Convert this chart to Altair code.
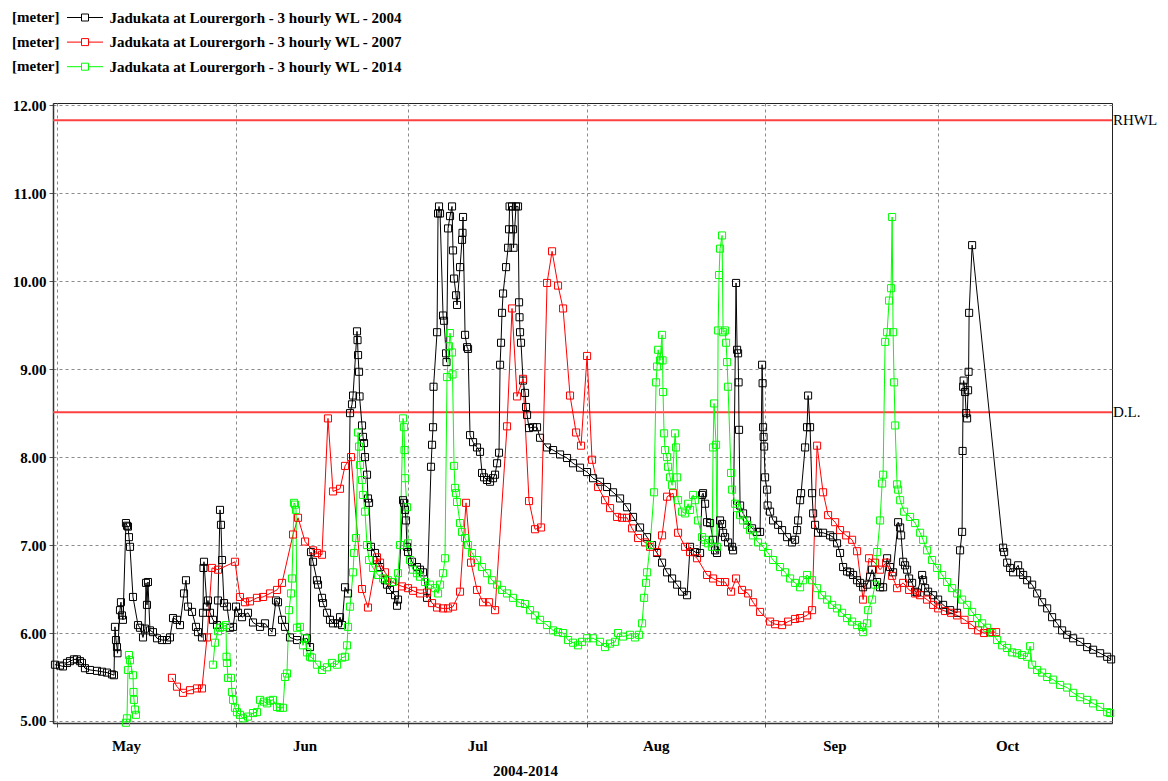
import altair as alt
import pandas as pd

SERIES = [
    "Jadukata at Lourergorh - 3 hourly WL - 2004",
    "Jadukata at Lourergorh - 3 hourly WL - 2007",
    "Jadukata at Lourergorh - 3 hourly WL - 2014",
]
COLORS = ["#000000", "#ff0000", "#00ff00"]
MONTH_TICKS = [5, 6, 7, 8, 9, 10]
Y_TICKS = [5, 6, 7, 8, 9, 10, 11, 12]
REF_LEVELS = [11.83, 8.51]
REF_LABELS = ["RHWL", "D.L."]

# day = days since 1 May, wl = water level [meter]
day_2004 = [-0.35, 0.52, 1.04, 1.74, 2.26, 2.95, 3.47, 3.99, 4.34, 4.86, 5.73, 6.95, 7.82, 8.68, 9.55, 9.90,
            10.07, 10.25, 10.42, 10.51, 10.94, 11.11, 11.29, 11.46, 11.98, 12.16, 12.33, 12.50, 12.68, 13.20,
            14.07, 14.41, 14.94, 15.28, 15.46, 15.63, 15.80, 16.15, 16.67, 17.37, 18.24, 19.10, 19.62, 20.15,
            20.84, 21.36, 22.06, 22.40, 22.75, 23.45, 24.14, 24.49, 25.18, 25.36, 25.44, 25.53, 26.05, 26.22,
            26.57, 27.09, 27.79, 27.96, 28.31, 28.48, 28.66, 29.00, 29.52, 30.05, 30.57, 31.09, 31.44, 32.13,
            33.17, 34.04, 35.26, 36.12, 37.34, 38.03, 38.38, 39.08, 39.60, 40.46, 41.68, 43.42, 43.94, 44.11,
            44.46, 45.15, 45.33, 46.02, 46.20, 46.89, 47.41, 47.93, 48.80, 49.15, 49.50, 50.02, 50.54, 50.89,
            51.23, 51.41, 52.10, 52.19, 52.28, 52.45, 52.54, 52.97, 53.14, 53.32, 53.49, 53.84, 54.01, 54.19,
            54.53, 55.23, 55.57, 56.10, 56.96, 57.31, 57.83, 58.70, 59.05, 59.22, 60.09, 60.26, 60.44, 60.61,
            60.78, 60.96, 61.65, 62.52, 63.04, 63.56, 64.26, 64.95, 65.13, 65.30, 65.39, 66.00, 66.17, 66.34,
            66.52, 67.04, 67.21, 67.56, 67.64, 67.91, 68.25, 68.60, 68.77, 68.95, 69.30, 69.47, 69.99, 70.34,
            70.42, 70.51, 70.86, 71.21, 71.38, 71.73, 72.25, 72.94, 73.46, 73.81, 74.16, 74.68, 75.20, 75.72,
            76.07, 76.42, 76.76, 76.94, 77.11, 77.28, 77.46, 77.98, 78.33, 78.50, 78.59, 79.02, 79.19, 79.28,
            79.71, 80.06, 80.24, 80.32, 80.41, 80.58, 80.93, 81.28, 81.45, 81.63, 81.97, 82.67, 83.36, 83.88,
            85.10, 86.14, 87.36, 88.57, 89.61, 90.83, 92.05, 93.09, 94.30, 95.52, 96.56, 97.78, 98.99, 100.03,
            101.25, 102.47, 103.33, 104.20, 105.07, 105.94, 106.81, 107.68, 108.54, 109.41, 109.93, 110.80,
            111.67, 112.02, 112.19, 112.54, 112.89, 113.41, 113.93, 114.28, 114.62, 115.14, 115.49, 115.67,
            116.01, 116.53, 117.23, 117.40, 117.92, 118.10, 118.27, 118.36, 118.44, 118.62, 119.14, 119.83,
            120.70, 121.57, 122.09, 122.44, 122.53, 122.61, 122.70, 122.79, 122.96, 123.31, 123.40, 123.83,
            124.35, 125.22, 125.91, 126.78, 127.65, 128.17, 128.52, 128.69, 129.04, 129.21, 129.91, 130.25,
            130.43, 130.77, 131.12, 131.30, 131.64, 132.16, 133.03, 134.25, 134.77, 135.46, 135.98, 136.51,
            137.20, 137.72, 138.24, 138.94, 139.46, 139.98, 140.67, 141.20, 141.54, 142.41, 142.93, 143.45,
            144.15, 144.67, 145.19, 146.06, 146.41, 146.58, 146.93, 147.27, 147.62, 147.97, 148.49, 149.01,
            149.36, 150.23, 150.40, 150.75, 151.27, 152.14, 153.01, 153.87, 155.09, 156.30, 156.82, 157.17,
            157.26, 157.35, 157.44, 157.69, 157.87, 158.04, 158.21, 158.30, 158.39, 158.91, 164.29, 164.47,
            164.99, 165.51, 166.03, 166.90, 167.24, 167.77, 168.46, 169.33, 170.20, 171.07, 171.94, 172.80,
            173.67, 174.54, 175.41, 176.45, 177.67, 178.88, 179.92, 181.14, 182.36, 183.05]
wl_2004 = [5.64, 5.63, 5.62, 5.66, 5.68, 5.70, 5.70, 5.68, 5.66, 5.60, 5.58, 5.57, 5.56, 5.55, 5.53, 5.52,
           6.07, 5.92, 5.84, 5.77, 6.26, 6.35, 6.20, 6.15, 7.25, 7.22, 7.21, 7.09, 6.98, 6.41,
           6.09, 6.06, 5.95, 6.05, 6.57, 6.32, 6.58, 6.03, 6.01, 5.94, 5.92, 5.92, 5.95, 6.17,
           6.15, 6.09, 6.45, 6.60, 6.30, 6.24, 6.07, 6.01, 5.95, 6.23, 6.74, 6.81, 6.30, 6.37,
           6.23, 6.15, 6.09, 6.37, 7.40, 7.23, 6.83, 6.34, 6.30, 6.06, 6.07, 6.30, 6.23, 6.18,
           6.23, 6.12, 6.07, 6.11, 6.01, 6.37, 6.35, 6.15, 6.07, 5.95, 5.92, 5.94, 5.84, 6.92,
           6.81, 6.60, 6.55, 6.40, 6.34, 6.23, 6.15, 6.11, 6.11, 6.18, 6.09, 6.52, 6.45, 8.50,
           8.60, 8.70, 9.43, 9.33, 9.16, 8.97, 8.69, 8.36, 8.23, 8.16, 8.00, 7.80, 7.53, 7.48,
           6.98, 6.91, 6.83, 6.75, 6.60, 6.55, 6.49, 6.43, 6.31, 6.38, 7.51, 7.48, 7.40, 7.28,
           6.98, 6.92, 6.81, 6.75, 6.72, 6.69, 6.40, 7.89, 8.14, 8.34, 8.80, 9.42, 10.77, 10.85,
           10.77, 9.61, 9.55, 9.18, 9.08, 10.60, 10.74, 10.85, 10.35, 10.03, 9.84, 9.73, 10.16, 10.47,
           10.55, 10.73, 9.39, 9.25, 9.23, 8.25, 8.17, 8.11, 8.06, 7.82, 7.77, 7.74, 7.72, 7.76,
           7.80, 7.93, 8.05, 9.05, 9.30, 9.64, 9.86, 10.16, 10.38, 10.59, 10.85, 10.85, 10.59, 10.38,
           10.85, 10.85, 9.76, 9.59, 9.42, 9.30, 8.87, 8.73, 8.57, 8.48, 8.33, 8.34, 8.34, 8.22,
           8.11, 8.08, 8.03, 7.99, 7.93, 7.88, 7.83, 7.76, 7.72, 7.66, 7.60, 7.53, 7.43, 7.32,
           7.20, 7.09, 7.00, 6.91, 6.80, 6.69, 6.62, 6.55, 6.47, 6.43, 6.98, 6.92,
           6.91, 7.57, 7.59, 7.47, 7.26, 7.25, 7.06, 6.94, 6.91, 7.28, 7.24, 7.14,
           7.09, 7.03, 6.98, 6.94, 9.98, 9.22, 9.18, 8.85, 8.31, 7.45, 7.36, 7.28,
           7.19, 7.15, 7.15, 9.05, 8.84, 8.34, 8.23, 8.12, 7.77, 7.63, 7.45, 7.38,
           7.28, 7.23, 7.17, 7.09, 7.03, 7.06, 7.17, 7.28, 7.51, 7.59, 8.11, 8.34,
           8.70, 8.34, 7.59, 7.36, 7.23, 7.14, 7.14, 7.11, 7.09, 7.02, 6.91, 6.75,
           6.70, 6.69, 6.66, 6.60, 6.57, 6.52, 6.55, 6.64, 6.72, 6.58, 6.52, 6.52,
           6.85, 6.75, 6.69, 7.26, 7.20, 7.11, 6.81, 6.77, 6.72, 6.62, 6.57, 6.47,
           6.46, 6.66, 6.60, 6.51, 6.47, 6.43, 6.38, 6.32, 6.26, 6.23, 6.94, 7.15,
           8.07, 8.80, 8.87, 8.74, 8.50, 8.44, 8.76, 8.97, 9.64, 10.41, 6.97, 6.92,
           6.80, 6.74, 6.69, 6.77, 6.69, 6.66, 6.60, 6.55, 6.45, 6.35, 6.28, 6.18,
           6.11, 6.03, 5.98, 5.94, 5.90, 5.84, 5.81, 5.77, 5.73, 5.70]

day_2007 = [19.97, 20.84, 21.88, 23.10, 24.31, 25.18, 26.05, 26.92, 27.96, 30.91, 31.78, 32.65, 33.52, 34.73,
            35.78, 36.99, 38.21, 39.08, 40.99, 41.86, 43.08, 44.46, 45.15, 46.02, 47.06, 47.93, 49.15, 50.02,
            51.06, 52.97, 54.01, 55.57, 56.10, 56.96, 58.18, 59.92, 60.96, 61.83, 63.04, 64.26, 65.13, 66.00,
            67.04, 67.91, 68.77, 69.99, 71.03, 71.90, 72.94, 73.98, 75.03, 76.07, 78.15, 79.02, 79.89, 80.93,
            81.97, 83.01, 84.06, 85.10, 85.97, 87.01, 87.88, 89.09, 90.14, 91.00, 92.05, 92.91, 93.96, 95.17,
            96.04, 97.26, 98.12, 98.99, 99.86, 100.90, 102.12, 102.99, 104.20, 105.07, 105.94, 106.98, 107.85,
            109.07, 109.93, 111.15, 112.89, 113.93, 115.14, 116.01, 117.05, 117.92, 118.96, 120.01, 120.88,
            122.09, 123.83, 124.70, 125.91, 126.95, 128.17, 129.04, 130.25, 131.12, 131.99, 133.03, 133.90,
            135.12, 135.98, 137.03, 138.07, 138.94, 139.98, 141.02, 142.06, 142.93, 143.97, 145.02, 145.88,
            146.93, 147.97, 149.01, 149.88, 151.09, 152.14, 153.01, 154.22, 155.26, 156.30, 157.60, 158.91,
            159.95, 160.99, 162.03, 163.08]
wl_2007 = [5.49, 5.39, 5.32, 5.35, 5.37, 5.37, 5.95, 6.74, 6.72, 6.81, 6.41, 6.35, 6.36, 6.40,
           6.41, 6.45, 6.49, 6.57, 7.12, 7.31, 7.04, 6.94, 6.91, 6.89, 8.44, 7.61, 7.64, 7.90,
           8.00, 6.50, 6.29, 6.86, 6.80, 6.69, 6.58, 6.53, 6.51, 6.48, 6.45, 6.46, 6.34, 6.29,
           6.28, 6.28, 6.30, 6.47, 7.48, 6.80, 6.49, 6.35, 6.35, 6.26, 8.35, 9.69, 8.69, 8.89,
           7.50, 7.18, 7.20, 9.98, 10.34, 9.95, 9.69, 8.70, 8.28, 8.13, 9.15, 7.97, 7.66, 7.51,
           7.42, 7.32, 7.31, 7.31, 7.19, 7.08, 7.03, 6.98, 6.92, 7.11, 7.55, 7.59, 7.14,
           6.98, 6.92, 6.85, 6.66, 6.62, 6.58, 6.58, 6.47, 6.62, 6.49, 6.45, 6.35,
           6.24, 6.13, 6.10, 6.09, 6.13, 6.16, 6.17, 6.20, 6.26, 8.13, 7.60, 7.34,
           7.26, 7.17, 7.11, 7.06, 6.93, 6.38, 6.85, 6.80, 6.72, 6.80, 6.65, 6.51,
           6.57, 6.49, 6.45, 6.43, 6.38, 6.32, 6.28, 6.25, 6.23, 6.20, 6.15, 6.09,
           6.03, 6.00, 6.01, 6.01]

day_2014_a = [11.98, 12.16, 12.33, 12.50, 12.68, 13.20, 13.29, 13.37, 13.55, 13.72]
wl_2014_a = [4.98, 5.03, 5.58, 5.75, 5.69, 5.52, 5.33, 5.24, 5.13, 5.07]

day_2014_b = [27.09, 27.44, 27.96, 28.31, 28.83, 29.35, 29.44, 29.52, 29.70, 30.22, 30.39, 30.57, 30.91,
              31.26, 31.78, 32.30, 33.17, 34.04, 34.73, 35.26, 35.95, 36.47, 36.99, 37.51, 38.21, 38.73,
              39.25, 39.60, 39.94, 40.29, 40.64, 40.81, 41.16, 41.33, 41.51, 41.68, 42.20, 42.72, 43.07,
              43.42, 43.94, 44.29, 45.15, 46.02, 46.89, 47.76, 48.63, 49.50, 50.02, 50.36, 50.54, 50.89,
              51.41, 51.58, 51.93, 52.28, 52.45, 52.62, 52.97, 53.14, 53.49, 53.84, 54.19, 54.88, 55.75,
              56.62, 57.49, 58.35, 59.22, 59.57, 60.09, 60.26, 60.35, 60.44, 60.78, 60.96, 61.31, 61.83,
              62.52, 63.04, 63.91, 64.78, 65.65, 66.17, 66.52, 67.04, 67.38, 67.73, 68.08, 68.25, 68.60,
              68.69, 68.95, 69.12, 69.30, 69.47, 69.99, 70.34, 70.86, 71.38, 72.07, 72.94, 73.81, 74.68,
              75.55, 76.42, 77.28, 78.15, 79.19, 80.41, 81.28, 82.15, 83.01, 83.88, 85.10, 86.14, 87.01,
              87.88, 88.75, 89.61, 90.48, 91.18, 92.05, 93.09, 94.30, 95.17, 96.04, 96.91, 97.43, 98.30,
              99.51, 100.38, 101.08, 101.60, 101.95, 102.29, 102.47, 102.99, 103.68, 104.03, 104.20,
              104.38, 104.72, 105.07, 105.16, 105.24, 105.42, 105.59, 105.94, 106.11, 106.46, 106.81,
              107.33, 107.50, 107.68, 107.85, 108.54, 109.07, 109.59, 109.93, 110.46, 110.80, 111.32,
              112.02, 112.54, 113.06, 113.76, 113.93, 114.10, 114.45, 114.62, 114.80, 114.97, 115.14,
              115.49, 115.67, 116.01, 116.19, 116.36, 116.53, 117.05, 117.23, 117.75, 118.10, 118.62,
              119.14, 119.83, 120.35, 120.88, 121.74, 122.61, 123.48, 124.35, 125.56, 126.43, 127.30,
              128.17, 129.04, 129.56, 130.25, 131.12, 131.99, 132.86, 133.73, 134.60, 135.46, 136.33,
              137.20, 138.07, 138.94, 139.81, 139.98, 140.67, 140.85, 141.54, 142.06, 142.41, 142.93,
              143.28, 143.45, 143.80, 144.15, 144.49, 144.84, 145.02, 145.19, 145.36, 145.54, 145.88,
              146.06, 146.41, 147.10, 148.14, 149.01, 149.88, 150.40, 151.09, 151.96, 152.83, 153.70,
              154.57, 155.44, 156.30, 157.17, 158.04, 158.91, 159.78, 160.65, 161.51, 162.38, 163.25,
              164.12, 164.99, 165.86, 166.72, 167.59, 168.46, 168.98, 169.33, 170.20, 171.07, 171.94,
              172.98, 174.19, 175.41, 176.45, 177.67, 178.88, 179.92, 181.14, 182.36, 182.88]
wl_2014_b = [5.64, 5.89, 6.02, 6.06, 6.07, 6.09, 5.73, 5.66, 5.49, 5.49, 5.33, 5.24, 5.15,
             5.10, 5.07, 5.03, 5.05, 5.09, 5.10, 5.24, 5.22, 5.20, 5.23, 5.24, 5.16, 5.15,
             5.15, 5.50, 5.54, 6.26, 6.45, 6.62, 7.48, 7.46, 7.40, 6.06, 6.07, 5.86, 5.94,
             5.78, 5.73, 5.72, 5.64, 5.58, 5.61, 5.66, 5.64, 5.72, 5.73, 5.86, 6.07, 6.30,
             6.69, 6.91, 7.08, 8.28, 8.12, 7.91, 7.74, 7.57, 7.38, 7.00, 6.83, 6.74, 6.66,
             6.62, 6.60, 6.58, 6.68, 7.00, 8.44, 8.34, 8.08, 7.76, 7.43, 7.02, 6.83, 6.72,
             6.68, 6.64, 6.58, 6.55, 6.51, 6.45, 6.55, 6.68, 6.85, 8.91, 9.26, 9.41, 9.19,
             8.94, 7.90, 7.65, 7.59, 7.49, 7.25, 7.15, 7.08, 7.00, 6.91, 6.83, 6.75, 6.68,
             6.60, 6.55, 6.49, 6.45, 6.40, 6.34, 6.33, 6.26, 6.20, 6.15, 6.09, 6.03, 6.01,
             6.00, 5.92, 5.89, 5.86, 5.90, 5.94, 5.94, 5.90, 5.84, 5.88, 5.90, 6.00, 5.96,
             5.98, 5.95, 5.98, 6.11, 6.40, 6.57, 6.69, 7.00, 7.60, 8.85, 9.03,
             9.22, 9.10, 9.39, 9.10, 8.74, 8.27, 8.08, 8.00, 7.89, 7.77, 7.68,
             8.27, 8.11, 7.77, 7.51, 7.38, 7.36, 7.47, 7.40, 7.57, 7.51, 7.28,
             7.09, 7.06, 7.02, 6.98, 8.11, 8.61, 8.14, 6.98, 9.44, 10.07, 10.37,
             10.52, 9.42, 9.44, 9.30, 9.08, 8.80, 7.82, 7.63, 7.47, 7.42, 7.34,
             7.28, 7.23, 7.17, 7.11, 7.03, 6.98, 6.91, 6.83, 6.75, 6.69, 6.62,
             6.57, 6.52, 6.60, 6.66, 6.60, 6.51, 6.43, 6.38, 6.32, 6.28, 6.23,
             6.17, 6.13, 6.09, 6.07, 6.01, 6.11, 6.26, 6.38, 6.55, 6.92, 7.28,
             7.70, 7.80, 9.31, 9.42, 9.78, 9.92, 10.73, 9.42, 8.85, 8.36, 7.69,
             7.63, 7.51, 7.38, 7.32, 7.25, 7.14, 7.06, 6.94, 6.83, 6.74, 6.66,
             6.58, 6.51, 6.45, 6.38, 6.32, 6.24, 6.17, 6.11, 6.06, 6.00, 5.92,
             5.86, 5.83, 5.78, 5.77, 5.75, 5.73, 5.85, 5.64, 5.58, 5.55, 5.50,
             5.47, 5.41, 5.38, 5.32, 5.27, 5.24, 5.20, 5.16, 5.10, 5.09]

BASE = pd.Timestamp("2004-05-01")

rows = []
for name, seg, days, wls in [
    (SERIES[0], "a", day_2004, wl_2004),
    (SERIES[1], "a", day_2007, wl_2007),
    (SERIES[2], "a", day_2014_a, wl_2014_a),
    (SERIES[2], "b", day_2014_b, wl_2014_b),
]:
    for i, (d, w) in enumerate(zip(days, wls)):
        rows.append({"series": name, "seg": seg, "idx": i,
                     "t": BASE + pd.to_timedelta(d, unit="D"), "wl": w})
df = pd.DataFrame(rows)
ref = pd.DataFrame({"level": REF_LEVELS, "label": REF_LABELS})

FONT = "Liberation Serif"
W, H = 1059, 620

x_enc = alt.X(
    "t:T",
    scale=alt.Scale(domain=[alt.DateTime(year=2004, month=4, date=30, hours=7, minutes=26),
                            alt.DateTime(year=2004, month=10, date=31, hours=4, minutes=48)]),
    axis=alt.Axis(values=[alt.DateTime(year=2004, month=m, date=1) for m in MONTH_TICKS],
                  format="%b", labelOffset=69, labelFlush=False, labelBaseline="middle",
                  labelPadding=18, tickSize=4, grid=True,
                  title="2004-2014", titleX=472, titleY=47, titleBaseline="middle",
                  titleAlign="center"),
)
y_enc = alt.Y(
    "wl:Q",
    scale=alt.Scale(domain=[4.977, 12.026], nice=False, zero=False),
    axis=alt.Axis(values=Y_TICKS, format=".2f", title=None, tickSize=4, labelPadding=3, grid=True),
)
color_scale = alt.Scale(domain=SERIES, range=COLORS)

legend = alt.Legend(
    orient="none", legendX=-41, legendY=-93, direction="vertical",
    title=["[meter]", "[meter]", "[meter]"], titleOrient="left", titleAnchor="start",
    titlePadding=17.5, titleFont=FONT, titleFontSize=15, titleFontWeight="bold",
    titleLineHeight=24.5, titleColor="black",
    symbolType="M-3.6,0H-0.7M0.7,0H3.6M-0.7,-0.7H0.7V0.7H-0.7Z",
    symbolSize=100, symbolStrokeWidth=1, symbolFillColor="white",
    labelOffset=17, labelFont=FONT, labelFontSize=15, labelFontWeight="bold",
    labelColor="black", labelLimit=500, rowPadding=8.6, padding=0,
)

lines = alt.Chart(df).mark_line(strokeWidth=1).encode(
    x=x_enc, y=y_enc,
    color=alt.Color("series:N", scale=color_scale, legend=legend),
    detail="seg:N",
    order=alt.Order("idx:Q"),
)
points = alt.Chart(df).mark_point(shape="square", filled=False, size=50, strokeWidth=1, opacity=1).encode(
    x="t:T", y="wl:Q",
    color=alt.Color("series:N", scale=color_scale, legend=None),
)
rules = alt.Chart(ref).mark_rule(color="#ff4040", strokeWidth=2).encode(y="level:Q")
labels = alt.Chart(ref).mark_text(align="left", baseline="middle", dx=1, font=FONT,
                                   fontSize=15, color="black").encode(
    x=alt.value(W), y="level:Q", text="label:N")

chart = alt.layer(rules, lines, points, labels).properties(
    width=W, height=H,
    padding={"left": 4, "top": 2, "right": 0, "bottom": 0},
).configure(font=FONT, background="white").configure_view(
    stroke="#222222", strokeWidth=1
).configure_axis(
    domainColor="#333333", domainWidth=1.5, tickColor="#555555",
    gridColor="#8a8a8a", gridDash=[3, 3], gridWidth=1,
    labelFont=FONT, labelFontSize=15, labelFontWeight="bold", labelColor="black",
    titleFont=FONT, titleFontSize=15, titleFontWeight="bold", titleColor="black",
)

chart.save("out.html", embed_options={"renderer": "svg", "actions": False})
